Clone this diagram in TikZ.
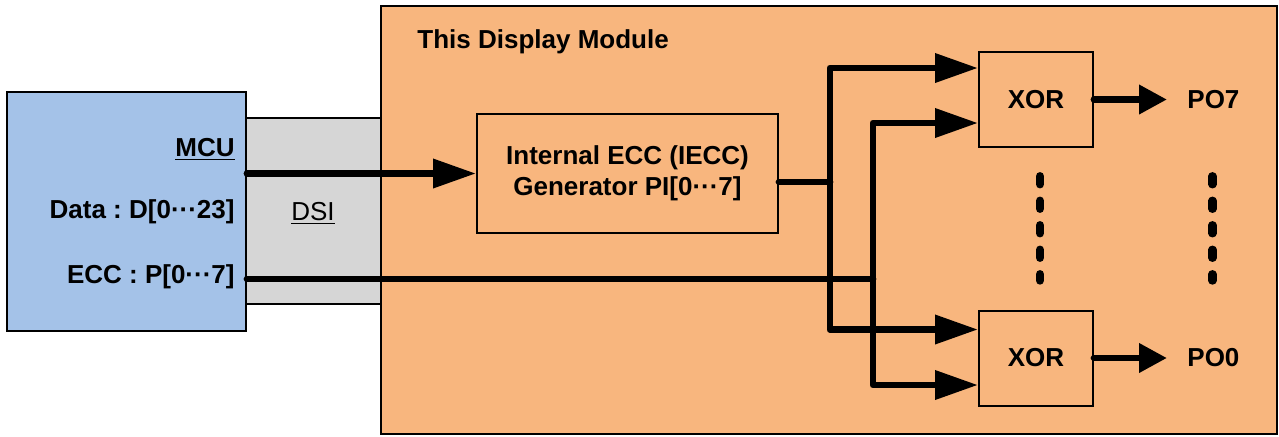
\documentclass[tikz,border=0pt]{standalone}
\usepackage{fontspec}
\setmainfont{Liberation Sans}
\usetikzlibrary{positioning,arrows.meta,calc}
\frenchspacing
\definecolor{mcublue}{HTML}{A4C2E8}
\definecolor{dsigray}{HTML}{D6D6D6}
\definecolor{moduleorange}{HTML}{F8B67E}

\begin{document}
\begin{tikzpicture}[x=0.5pt,y=-0.5pt,
    every node/.style={font=\fontsize{13}{15.6}\selectfont\bfseries, align=center},
    block/.style={draw, line width=1pt, inner sep=0pt},
    lbl/.style={inner sep=0pt},
    bus/.style={line width=3.4pt, line cap=round, line join=round},
    busarr/.style={bus, -{Triangle[length=21.5pt,width=14pt]}},
    outarr/.style={bus, -{Triangle[length=14pt,width=14pt]}},
    vdots/.style={line width=4.2pt, line cap=round, dash pattern=on 4pt off 8.25pt}
  ]
    \useasboundingbox (0,0) rectangle (1279,436);
    \node[block, fill=moduleorange, minimum width=448pt, minimum height=214pt] (module) at (829,220) {};
    \node[block, fill=mcublue, minimum width=119.5pt, minimum height=119.5pt] (mcu) at (126.5,211.5) {};
    \node[block, fill=dsigray, minimum width=67.5pt, minimum height=93pt] (dsi) at (313.5,211) {};
    \node[block, minimum width=150.5pt, minimum height=59.5pt] (iecc) at (627.5,173.5) {Internal ECC (IECC)\\Generator PI[0···7]};
    \node[block, minimum width=57pt, minimum height=47.5pt] (xor7) at (1036,99.5) {XOR};
    \node[block, minimum width=57pt, minimum height=47.5pt] (xor0) at (1036,358) {XOR};

    \node[lbl, anchor=base west] (title) at (417,48) {This Display Module};
    \node[lbl, anchor=base east] (mculbl) at (235,156) {\underline{MCU}};
    \node[lbl, anchor=base east] (datalbl) at (235,218) {Data : D[0···23]};
    \node[lbl, anchor=base east] (ecclbl) at (235,283) {ECC : P[0···7]};
    \node[lbl, anchor=base, font=\fontsize{13}{15.6}\selectfont] (dsilbl) at (313,220) {\underline{DSI}};
    \node[lbl, anchor=west, inner xsep=10pt] (po7) at (xor7.east -| 1167,0) {PO7};
    \node[lbl, anchor=west, inner xsep=10pt] (po0) at (xor0.east -| 1167,0) {PO0};

    \coordinate (b1) at (830,182);
    \coordinate (b2) at (873,279);

    \draw[busarr] (mcu.east |- iecc.west) -- (iecc.west);
    \draw[bus] (iecc.east |- b1) -- (b1);
    \draw[busarr] (b1) |- ($(xor7.west)+(0,-31.5)$);
    \draw[busarr] (b1) |- ($(xor0.west)+(0,-28.5)$);
    \draw[bus] (mcu.east |- b2) -- (b2);
    \draw[busarr] (b2) |- ($(xor7.west)+(0,23.5)$);
    \draw[busarr] (b2) |- ($(xor0.west)+(0,27)$);
    \draw[outarr] (xor7.east) -- (po7.west);
    \draw[outarr] (xor0.east) -- (po0.west);
    \draw[vdots] ($(xor7.south)+(4,28.25)$) -- ($(xor0.north)+(4,-29)$);
    \draw[vdots] ($(xor7.south -| po7.south)+(-1,28.25)$) -- ($(xor0.north -| po0.north)+(-1,-29)$);
  \end{tikzpicture}
\end{document}
